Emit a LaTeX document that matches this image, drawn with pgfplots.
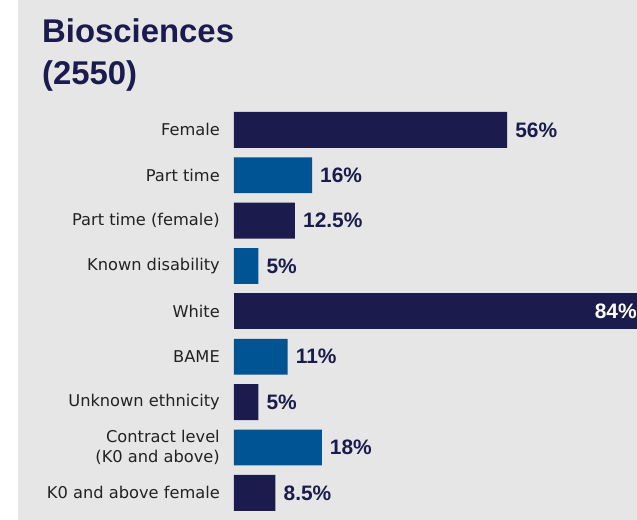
\documentclass[border=0pt]{standalone}
\usepackage{fontspec}
\setmainfont{Liberation Sans}
\newfontfamily\labfont{DejaVu Sans}
\usepackage{pgfplots}
\pgfplotsset{compat=1.18}

\definecolor{navy}{HTML}{1B1B4E}
\definecolor{midblue}{HTML}{005493}
\definecolor{bggray}{HTML}{E6E6E6}
\definecolor{labgray}{HTML}{222222}

\begin{document}
\begin{tikzpicture}[x=1bp,y=1bp]
% page and grey panel
\fill[white] (0,0) rectangle (637,520);
\fill[bggray] (18,0) rectangle (637,520);

% title
\node[anchor=base west, inner sep=0pt, text=navy,
      font=\fontsize{33}{33}\selectfont\bfseries] at (42,477) {Biosciences};
\node[anchor=base west, inner sep=0pt, text=navy,
      font=\fontsize{33}{33}\selectfont\bfseries] at (42,435) {(2550)};

\begin{axis}[
    at={(234bp,4.3bp)}, anchor=south west,
    scale only axis,
    width=403bp, height=408.5bp,
    xbar, bar width=0.79, bar shift=0pt,
    xmin=0, xmax=82.6,
    ymin=-0.5, ymax=8.5,
    y dir=reverse,
    axis line style={draw=none},
    major tick length=0pt,
    xtick=\empty,
    ytick={0,1,2,3,4,5,6,7,8},
    yticklabels={Female, Part time, Part time (female), Known disability, White,
                 BAME, Unknown ethnicity, {Contract level\\(K0 and above)},
                 K0 and above female},
    yticklabel style={font=\labfont\fontsize{16.3}{19.5}\selectfont,
                      text=labgray, align=right, inner sep=0pt, xshift=-14bp},
    point meta=x,
    nodes near coords={\pgfmathprintnumber[assume math mode=true]{\pgfplotspointmeta}\%},
    every node near coord/.append style={font=\fontsize{21}{21}\selectfont\bfseries,
                      text=navy, inner sep=0pt, xshift=8bp},
]
\addplot[fill=navy, draw=none] coordinates {(56,0) (12.5,2) (5,6) (8.5,8)};
\addplot[fill=midblue, draw=none] coordinates {(16,1) (5,3) (11,5) (18,7)};
\addplot[fill=navy, draw=none, nodes near coords={}] coordinates {(84,4)};

\node[anchor=east, inner sep=0pt, text=white,
      font=\fontsize{21}{21}\selectfont\bfseries] at (axis cs:82.6,4) {84\%};
\end{axis}
\end{tikzpicture}
\end{document}
